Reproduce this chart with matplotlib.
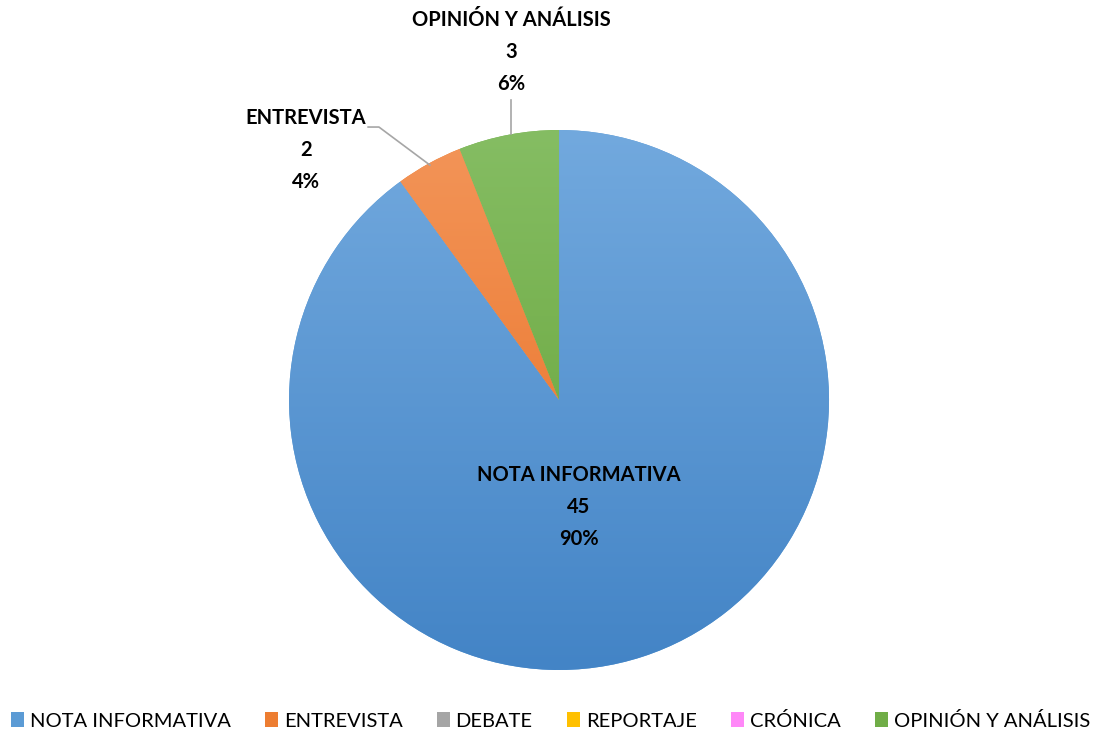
import numpy as np
import matplotlib
matplotlib.use('Agg')
import matplotlib.pyplot as plt
from matplotlib.patches import Patch
from matplotlib.colors import LinearSegmentedColormap

# Datos del gráfico
categorias = ['NOTA INFORMATIVA', 'ENTREVISTA', 'DEBATE', 'REPORTAJE',
              'CRÓNICA', 'OPINIÓN Y ANÁLISIS']
valores = [45, 2, 0, 0, 0, 3]
colores = ['#5B9BD5', '#ED7D31', '#A5A5A5', '#FFC000', '#FF88F8', '#70AD47']
# tonos claro (arriba) y oscuro (abajo) para el degradado
claros = ['#72A9DE', '#F39559', '#B5B5B5', '#FFD23F', '#FFA0FA', '#85BD63']
oscuros = ['#4384C6', '#E86C1E', '#959595', '#F0B400', '#F070F0', '#62A033']

plt.rcParams['font.family'] = ['Lato', 'DejaVu Sans']

fig = plt.figure(figsize=(11.01, 7.30), dpi=100)
ax = fig.add_axes([0.2625, 0.0822, 0.4905, 0.7397])

wedges, _ = ax.pie(valores, startangle=90, counterclock=False, colors=colores,
                   radius=1, wedgeprops=dict(linewidth=0))

# Degradado vertical dentro de cada porción
grad = np.linspace(0, 1, 256).reshape(-1, 1)
for w, c1, c2, v in zip(wedges, claros, oscuros, valores):
    if v == 0:
        continue
    cmap = LinearSegmentedColormap.from_list('g', [c2, c1])
    im = ax.imshow(grad, extent=(-1, 1, -1, 1), origin='lower', cmap=cmap,
                   aspect='auto', zorder=2)
    im.set_clip_path(w)

ax.set_xlim(-1, 1)
ax.set_ylim(-1, 1)
ax.set_aspect('equal')
ax.axis('off')

total = sum(valores)
etq = [f'{c}\n{v}\n{round(100 * v / total)}%' for c, v in zip(categorias, valores)]
kw = dict(ha='center', va='center', fontsize=14.5, fontweight='bold',
          linespacing=1.75, color='black', zorder=5)

# etiquetas de datos
ax.text(0.074, -0.396, etq[0], **kw)
ax.text(-0.937, 0.926, etq[1], **kw)
ax.text(-0.178, 1.289, etq[5], **kw)

# líneas guía
ax.plot([-0.707, -0.667, -0.478], [1.011, 1.011, 0.87], color='#A6A6A6',
        lw=1.2, zorder=4, clip_on=False)
ax.plot([-0.178, -0.178], [1.111, 0.985], color='#A6A6A6', lw=1.2,
        zorder=4, clip_on=False)

handles = [Patch(facecolor=c, edgecolor='none') for c in colores]
fig.legend(handles, categorias, loc='center', bbox_to_anchor=(0.5, 0.013),
           ncol=6, frameon=False, fontsize=14.5, handlelength=0.62, handleheight=0.75,
           handletextpad=0.3, columnspacing=1.72)

fig.savefig('out.png', dpi=100)
